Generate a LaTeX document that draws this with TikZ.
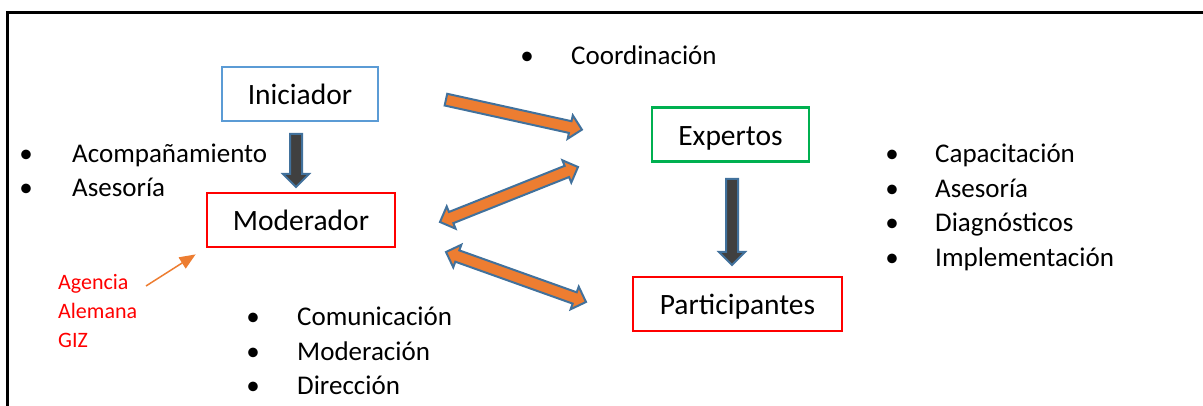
\documentclass[tikz,border=0pt]{standalone}
\usepackage{fontspec}
\setmainfont{Carlito}
\usetikzlibrary{calc,shapes.arrows,arrows.meta}
\definecolor{boxblue}{HTML}{5B9BD5}
\definecolor{boxred}{HTML}{FF0000}
\definecolor{boxgreen}{HTML}{00B050}
\definecolor{arrorange}{HTML}{ED7D31}
\definecolor{arredge}{HTML}{41719C}
\definecolor{arrgray}{HTML}{404040}
\definecolor{gizred}{HTML}{FF0000}
\newcommand\blockarrow[4]{%
  \path let \p1=($(#3)-(#2)$), \n1={veclen(\x1,\y1)} in
    (#2) -- (#3) node[midway, sloped, allow upside down, #1, minimum height=\n1] (#4) {};}
\begin{document}
\begin{tikzpicture}[x=1pt,y=-1pt,
  box/.style={draw, line width=2.8pt, minimum width=#1, minimum height=54pt, inner sep=0pt,
    text height=28pt, text depth=6pt, font=\fontsize{29.5}{35}\selectfont},
  listtext/.style={anchor=base west, inner sep=0pt, font=\fontsize{27}{32}\selectfont},
  bul/.style={anchor=base, inner sep=0pt, font=\fontsize{27}{32}\selectfont},
  redtext/.style={anchor=base west, inner sep=0pt, text=gizred, font=\fontsize{22}{26}\selectfont},
  orangesingle/.style={single arrow, fill=arrorange, draw=arredge, line width=2pt,
    inner xsep=0pt, inner ysep=5pt, single arrow head extend=6pt},
  orangedouble/.style={double arrow, fill=arrorange, draw=arredge, line width=2pt,
    inner xsep=0pt, inner ysep=5pt, double arrow head extend=6pt},
  graysingle/.style={single arrow, fill=arrgray, draw=arredge, line width=2pt,
    inner xsep=0pt, inner ysep=5pt, single arrow head extend=7pt},
  thinarrow/.style={draw=arrorange, line width=1.5pt, -{Triangle[length=16pt,width=13pt]}},
  frame/.style={line width=3pt}
]
\useasboundingbox (0,0) rectangle (1203,406);
\draw[frame] (7.5,406) -- (7.5,12.5) -- (1203,12.5);

% boxes
\node[box=156pt, draw=boxblue] (ini) at (300,94) {Iniciador};
\node[box=188pt, draw=boxred] (mod) at (301,220) {Moderador};
\node[box=157pt, draw=boxgreen] (exp) at (730.5,134.5) {Expertos};
\node[box=209pt, draw=boxred] (par) at (737.5,304) {Participantes};

% block arrows
\coordinate (g1s) at (296,131); \coordinate (g1e) at (296,184);
\coordinate (g2s) at (732,176); \coordinate (g2e) at (732,262);
\coordinate (o1s) at (443,99);  \coordinate (o1e) at (579,129);
\coordinate (o2s) at (440,222); \coordinate (o2e) at (578,167);
\coordinate (o3s) at (446,252); \coordinate (o3e) at (586,302);
\blockarrow{graysingle}{g1s}{g1e}{ga1}
\blockarrow{graysingle}{g2s}{g2e}{ga2}
\blockarrow{orangesingle}{o1s}{o1e}{oa1}
\blockarrow{orangedouble}{o2s}{o2e}{oa2}
\blockarrow{orangedouble}{o3s}{o3e}{oa3}

% lists
\node[bul] (bc) at (527,65) {\textbullet};
\node[listtext] (coord) at (571,65) {Coordinación};

\node[bul] (bl1) at (26,162.5) {\textbullet};
\node[listtext] (acomp) at (72,162.5) {Acompañamiento};
\node[bul] (bl2) at (26,196.5) {\textbullet};
\node[listtext] (ases1) at (72,196.5) {Asesoría};

\node[bul] (br1) at (892,163) {\textbullet};
\node[listtext] (capa) at (935,163) {Capacitación};
\node[bul] (br2) at (892,197.5) {\textbullet};
\node[listtext] (ases2) at (935,197.5) {Asesoría};
\node[bul] (br3) at (892,232) {\textbullet};
\node[listtext] (diag) at (935,232) {Diagnósticos};
\node[bul] (br4) at (892,266.5) {\textbullet};
\node[listtext] (impl) at (935,266.5) {Implementación};

\node[bul] (bb1) at (253,326) {\textbullet};
\node[listtext] (comu) at (297,326) {Comunicación};
\node[bul] (bb2) at (253,360) {\textbullet};
\node[listtext] (mode) at (297,360) {Moderación};
\node[bul] (bb3) at (253,394) {\textbullet};
\node[listtext] (dire) at (297,394) {Dirección};

% red text
\node[redtext] (ag1) at (58,290) {Agencia};
\node[redtext] (ag2) at (58,319) {Alemana};
\node[redtext] (ag3) at (58,348) {GIZ};
\coordinate (gizs) at (146,286);
\draw[thinarrow] (gizs) -- ($(mod.south west)+(-10,6)$);
\end{tikzpicture}
\end{document}
